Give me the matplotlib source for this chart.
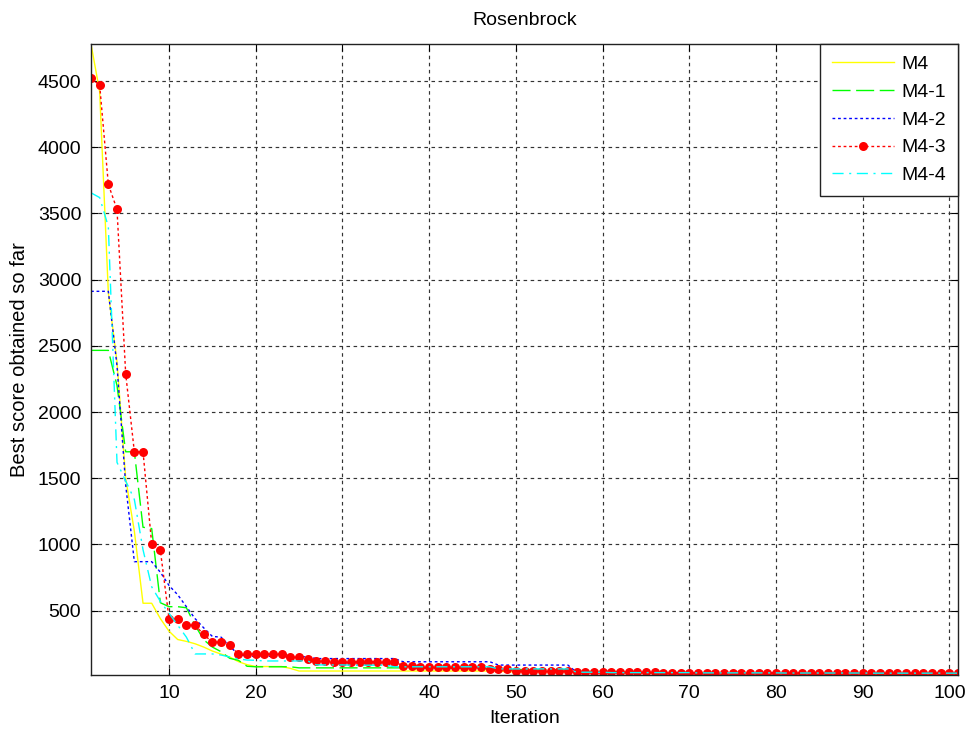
import matplotlib
matplotlib.use("Agg")
import matplotlib.pyplot as plt
import numpy as np

plt.rcParams['font.family'] = ['Liberation Sans', 'DejaVu Sans']

iterations = list(range(1, 102))

m4 = [4780, 4420, 2900, 2380, 1500, 1100, 556, 556, 440, 345,
      282, 268, 250, 225, 195, 172, 150, 115, 92, 78,
      78, 78, 78, 64, 44, 44, 44, 44, 44, 44,
      44, 44, 44, 44, 44, 44, 44, 44, 44, 44,
      44, 44, 44, 44, 44, 44, 44, 44, 38, 38,
      38, 38, 38, 38, 38, 38, 38, 38, 38, 38,
      30, 30, 30, 30, 30, 30, 30, 30, 30, 30,
      26, 26, 26, 26, 26, 26, 26, 26, 26, 26,
      24, 24, 24, 24, 24, 24, 24, 24, 24, 24,
      22, 22, 22, 22, 22, 22, 22, 22, 22, 22, 22]

m4_1 = [2466, 2466, 2466, 2200, 1700, 1700, 1130, 1120, 560, 530,
        530, 522, 390, 280, 225, 190, 140, 125, 80, 76,
        76, 76, 76, 76, 68, 68, 68, 68, 68, 68,
        68, 68, 68, 68, 68, 68, 68, 68, 65, 65,
        65, 65, 65, 65, 65, 65, 55, 55, 55, 55,
        55, 55, 55, 55, 55, 55, 40, 40, 40, 40,
        40, 40, 30, 30, 30, 30, 30, 30, 30, 30,
        28, 28, 28, 28, 28, 28, 28, 28, 28, 28,
        27, 27, 27, 27, 27, 27, 27, 27, 27, 27,
        26, 26, 26, 26, 26, 26, 26, 26, 26, 26, 26]

m4_2 = [2912, 2912, 2912, 2350, 1450, 870, 870, 870, 790, 690,
        620, 530, 440, 370, 305, 300, 230, 170, 155, 155,
        155, 155, 155, 155, 155, 150, 138, 138, 138, 138,
        138, 138, 138, 138, 138, 138, 114, 114, 114, 114,
        114, 114, 114, 114, 114, 114, 114, 89, 89, 89,
        89, 89, 89, 89, 89, 89, 35, 35, 35, 35,
        32, 32, 32, 32, 32, 32, 32, 32, 32, 32,
        30, 30, 30, 30, 30, 30, 30, 30, 30, 30,
        29, 29, 29, 29, 29, 29, 29, 29, 29, 29,
        28, 28, 28, 28, 28, 28, 28, 28, 28, 28, 28]

m4_3 = [4520, 4470, 3720, 3530, 2290, 1700, 1700, 1005, 955, 440,
        440, 390, 390, 320, 262, 262, 240, 173, 173, 173,
        173, 173, 173, 148, 148, 132, 120, 120, 115, 115,
        115, 115, 115, 115, 115, 115, 82, 82, 72, 72,
        72, 72, 72, 72, 72, 72, 60, 60, 57, 44,
        44, 44, 44, 44, 44, 44, 34, 34, 34, 34,
        34, 34, 34, 34, 34, 34, 30, 30, 30, 30,
        28, 28, 28, 28, 28, 28, 28, 28, 28, 28,
        28, 28, 28, 28, 28, 28, 28, 28, 28, 28,
        27, 27, 27, 27, 27, 27, 27, 27, 27, 27, 27]

m4_4 = [3656, 3620, 3400, 1620, 1480, 1340, 960, 680, 570, 480,
        390, 300, 173, 173, 173, 165, 150, 135, 127, 125,
        120, 120, 120, 120, 120, 120, 90, 90, 90, 90,
        88, 88, 88, 88, 88, 76, 76, 76, 76, 76,
        76, 76, 76, 76, 76, 76, 76, 60, 60, 60,
        60, 60, 60, 60, 60, 60, 35, 35, 35, 35,
        32, 32, 32, 32, 32, 32, 32, 32, 32, 32,
        30, 30, 30, 30, 30, 30, 30, 30, 30, 30,
        29, 29, 29, 29, 29, 29, 29, 29, 29, 29,
        28, 28, 28, 28, 28, 28, 28, 28, 28, 28, 28]

labels = ["M4", "M4-1", "M4-2", "M4-3", "M4-4"]
x_ticks = [10, 20, 30, 40, 50, 60, 70, 80, 90, 100]
y_ticks = [500, 1000, 1500, 2000, 2500, 3000, 3500, 4000, 4500]

fig = plt.figure(figsize=(9.68, 7.29), dpi=100)
ax = fig.add_axes([91/968, 54/729, 867/968, 631/729])

ax.plot(iterations, m4, color=(1, 1, 0), lw=1.0, ls='-', label=labels[0])
ax.plot(iterations, m4_1, color=(0, 1, 0), lw=1.0, ls=(0, (13, 4)), label=labels[1])
ax.plot(iterations, m4_2, color=(0, 0, 1), lw=1.0, ls=(0, (2, 2)), label=labels[2])
ax.plot(iterations, m4_3, color=(1, 0, 0), lw=1.0, ls=(0, (2, 2)), marker='o',
        markersize=6.5, markeredgewidth=0, markerfacecolor=(1, 0, 0), label=labels[3])
ax.plot(iterations, m4_4, color=(0, 1, 1), lw=1.0, ls=(0, (8, 4, 1.5, 4)), label=labels[4])

ax.set_xlim(1, 101)
ax.set_ylim(14, 4780)
ax.set_xticks(x_ticks)
ax.set_yticks(y_ticks)
ax.tick_params(direction='in', top=True, right=True, length=5, width=0.8,
               labelsize=14, pad=7, colors='black')
ax.grid(True, color='#333333', linestyle=(0, (3, 3)), linewidth=0.85)
for s in ax.spines.values():
    s.set_linewidth(1.0)
    s.set_color('#222222')

ax.set_title("Rosenbrock", fontsize=14, pad=14)
ax.set_xlabel("Iteration", fontsize=14, labelpad=6)
ax.set_ylabel("Best score obtained so far", fontsize=14.5, labelpad=6)

leg = ax.legend(loc='upper right', borderaxespad=0, fontsize=14, fancybox=False,
                framealpha=1, edgecolor='#222222', handlelength=3.2,
                handletextpad=0.4, labelspacing=0.52, borderpad=0.6)
leg.get_frame().set_linewidth(1.0)

fig.savefig("out.png", dpi=100, facecolor='white')
